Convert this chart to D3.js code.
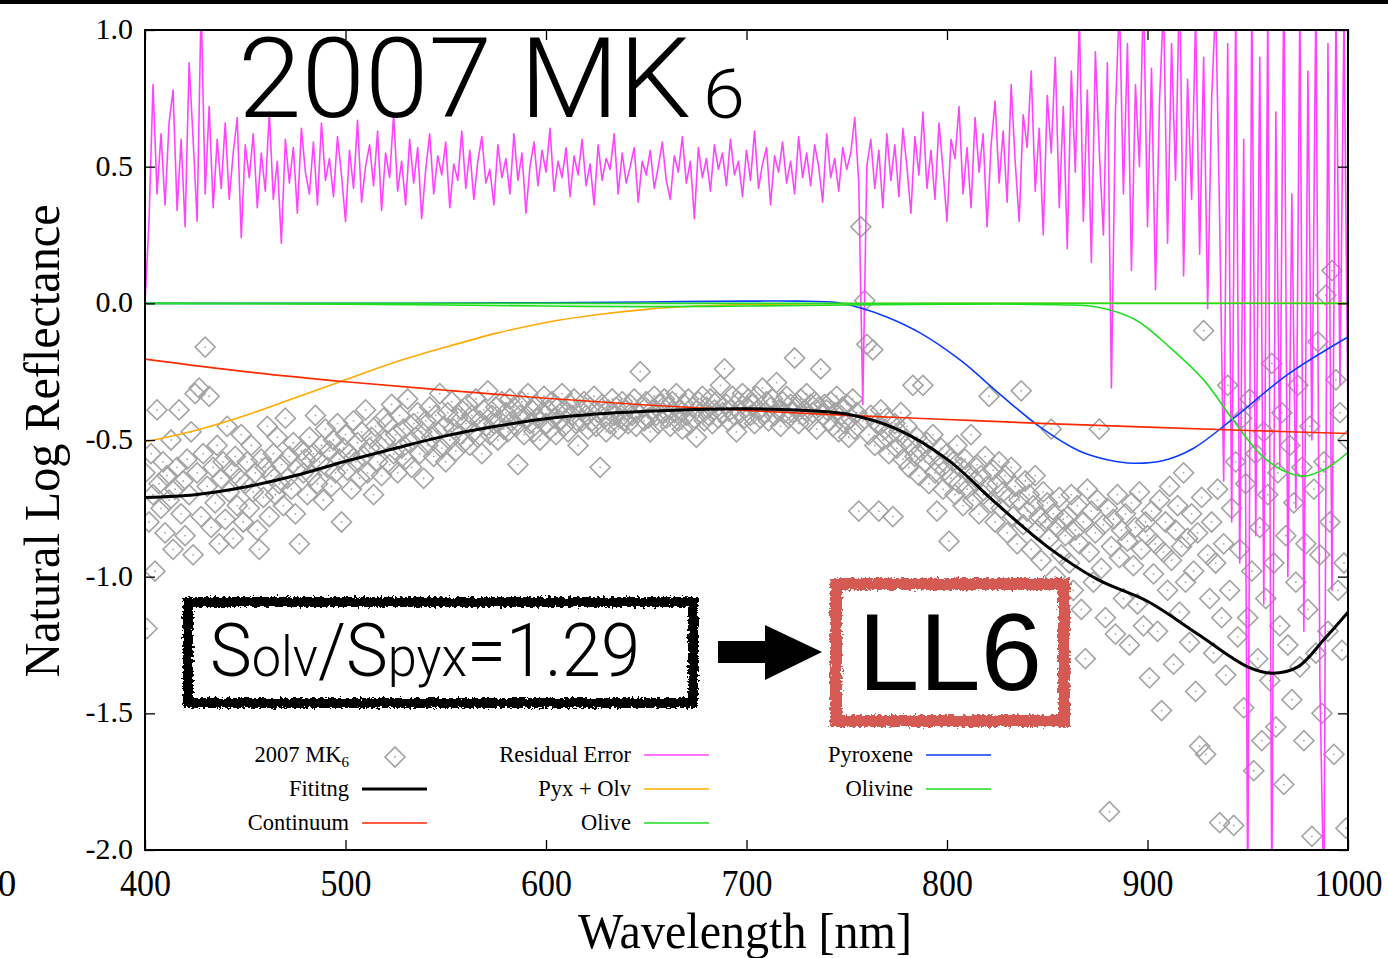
<!DOCTYPE html>
<html>
<head>
<meta charset="utf-8">
<script src="https://cdn.jsdelivr.net/npm/d3@7"></script>
<style>
  body { margin: 0; background: #fff; }
  svg { display: block; }
</style>
</head>
<body>
<svg id="chart"></svg>
<script>
/* global d3 */

// ---- data ----
var xTicks = [400, 500, 600, 700, 800, 900, 1000];
var yTicks = [1.0, 0.5, 0.0, -0.5, -1.0, -1.5, -2.0];

// measured reflectance, one point per nm from 400 to 1000
var specStart = 400;
var specValues = [
  -0.62,-1.19,-0.80,-0.55,-0.70,-0.98,-0.39,-0.66,-0.75,-0.58,-0.84,-0.63,-0.72,-0.50,-0.90,-0.68,-0.60,-0.39,-0.77,-0.65,
  -0.85,-0.57,-0.70,-0.47,-0.92,-0.33,-0.62,-0.31,-0.78,-0.55,-0.16,-0.67,-0.34,-0.82,-0.60,-0.73,-0.52,-0.88,-0.64,-0.58,
  -0.79,-0.45,-0.69,-0.61,-0.86,-0.56,-0.74,-0.64,-0.48,-0.80,-0.66,-0.58,-0.75,-0.52,-0.69,-0.62,-0.83,-0.90,-0.57,-0.71,
  -0.60,-0.45,-0.78,-0.63,-0.55,-0.70,-0.49,-0.66,-0.59,-0.74,-0.42,-0.64,-0.56,-0.68,-0.51,-0.77,-0.60,-0.88,-0.54,-0.62,
  -0.57,-0.70,-0.49,-0.63,-0.55,-0.41,-0.66,-0.58,-0.52,-0.72,-0.46,-0.60,-0.54,-0.67,-0.50,-0.62,-0.44,-0.57,-0.80,-0.53,
  -0.48,-0.61,-0.55,-0.68,-0.43,-0.58,-0.51,-0.64,-0.47,-0.56,-0.39,-0.62,-0.53,-0.49,-0.70,-0.45,-0.58,-0.52,-0.63,-0.42,
  -0.50,-0.44,-0.59,-0.37,-0.55,-0.48,-0.62,-0.41,-0.53,-0.46,-0.57,-0.35,-0.51,-0.60,-0.44,-0.49,-0.40,-0.55,-0.47,-0.64,
  -0.43,-0.52,-0.38,-0.49,-0.56,-0.41,-0.47,-0.33,-0.53,-0.45,-0.58,-0.40,-0.50,-0.36,-0.46,-0.54,-0.42,-0.48,-0.39,-0.51,
  -0.44,-0.37,-0.52,-0.41,-0.47,-0.35,-0.49,-0.43,-0.55,-0.39,-0.45,-0.32,-0.48,-0.41,-0.44,-0.38,-0.50,-0.43,-0.36,-0.46,
  -0.40,-0.47,-0.35,-0.43,-0.38,-0.45,-0.59,-0.41,-0.36,-0.48,-0.42,-0.33,-0.44,-0.39,-0.47,-0.37,-0.42,-0.50,-0.40,-0.34,
  -0.44,-0.39,-0.46,-0.36,-0.42,-0.48,-0.38,-0.43,-0.33,-0.45,-0.40,-0.47,-0.37,-0.41,-0.35,-0.44,-0.52,-0.39,-0.43,-0.36,
  -0.41,-0.46,-0.38,-0.43,-0.34,-0.45,-0.40,-0.60,-0.37,-0.42,-0.47,-0.39,-0.44,-0.35,-0.41,-0.38,-0.46,-0.42,-0.36,-0.43,
  -0.39,-0.44,-0.37,-0.41,-0.35,-0.45,-0.40,-0.25,-0.38,-0.43,-0.36,-0.42,-0.47,-0.39,-0.34,-0.41,-0.44,-0.37,-0.40,-0.35,
  -0.42,-0.38,-0.45,-0.36,-0.40,-0.33,-0.43,-0.39,-0.46,-0.37,-0.41,-0.35,-0.44,-0.38,-0.42,-0.49,-0.36,-0.40,-0.34,-0.43,
  -0.38,-0.41,-0.35,-0.44,-0.39,-0.36,-0.42,-0.30,-0.40,-0.24,-0.37,-0.43,-0.39,-0.34,-0.41,-0.47,-0.36,-0.40,-0.33,-0.42,
  -0.38,-0.35,-0.41,-0.37,-0.44,-0.34,-0.39,-0.42,-0.31,-0.40,-0.36,-0.43,-0.38,-0.35,-0.41,-0.29,-0.39,-0.45,-0.36,-0.40,
  -0.34,-0.42,-0.37,-0.40,-0.20,-0.38,-0.44,-0.35,-0.41,-0.39,-0.33,-0.43,-0.37,-0.40,-0.36,-0.46,-0.38,-0.24,-0.41,-0.37,
  -0.39,-0.43,-0.36,-0.45,-0.40,-0.34,-0.47,-0.41,-0.38,-0.44,-0.37,-0.49,-0.42,-0.35,-0.46,-0.40,-0.76,0.28,-0.43,0.01,
  -0.15,-0.48,-0.41,-0.17,-0.52,-0.44,-0.76,-0.39,-0.50,-0.46,-0.42,-0.55,-0.48,-0.78,-0.44,-0.53,-0.47,-0.40,-0.57,-0.50,
  -0.45,-0.60,-0.52,-0.30,-0.56,-0.49,-0.63,-0.54,-0.30,-0.58,-0.51,-0.66,-0.56,-0.48,-0.62,-0.76,-0.59,-0.53,-0.68,-0.61,
  -0.55,-0.87,-0.64,-0.58,-0.70,-0.52,-0.66,-0.60,-0.74,-0.57,-0.68,-0.62,-0.48,-0.72,-0.65,-0.59,-0.77,-0.63,-0.70,-0.56,
  -0.67,-0.34,-0.73,-0.61,-0.80,-0.66,-0.58,-0.75,-0.69,-0.63,-0.84,-0.71,-0.60,-0.78,-0.67,-0.88,-0.72,-0.32,-0.81,-0.65,
  -0.76,-0.70,-0.90,-0.74,-0.63,-0.83,-0.78,-0.94,-0.69,-0.80,-0.73,-0.86,-0.46,-0.77,-1.00,-0.82,-0.71,-0.92,-0.79,-0.85,
  -0.78,-0.95,-0.70,-1.05,-0.83,-0.74,-0.88,-1.12,-0.80,-1.30,-0.68,-0.91,-0.76,-1.02,-0.84,-0.72,-0.46,-0.97,-0.81,-1.15,
  -0.75,-1.86,-0.89,-0.79,-1.21,-0.70,-0.93,-0.83,-1.08,-0.77,-0.87,-1.25,-0.73,-0.96,-0.82,-1.10,-0.69,-0.90,-1.18,-0.80,
  -0.85,-1.37,-0.76,-0.99,-0.88,-1.20,-0.72,-1.49,-0.91,-0.80,-1.05,-0.67,-0.94,-1.32,-0.83,-0.74,-1.13,-0.89,-0.62,-1.02,
  -0.86,-1.24,-0.77,-0.98,-1.42,-0.84,-1.62,-0.71,-0.10,-1.65,-0.92,-1.08,-0.80,-1.28,-0.95,-0.68,-1.90,-1.15,-0.88,-1.36,
  -0.30,-1.05,-0.75,-1.91,-0.58,-1.22,-0.90,-0.42,-1.48,-0.66,-1.15,-0.35,-0.98,-1.71,-0.55,-1.30,-0.82,-1.60,-0.47,-1.08,
  -0.70,-1.38,-0.22,-0.95,-1.55,-0.62,-1.18,-0.40,-1.76,-0.85,-1.25,-0.52,-1.45,-0.73,-1.02,-0.30,-1.33,-0.60,-1.60,-0.88,
  -1.12,-0.45,-1.95,-0.68,-1.28,-0.14,-0.92,-1.50,-0.58,0.03,-1.20,-0.80,0.12,-1.65,-0.28,-1.05,-0.40,-1.27,-0.95,-1.92,
  -0.50
];

// residual error, one value every 2 nm from 400 to 1000
var residStart = 400;
var residStep = 2;
var residValues = [
  0.00,0.30,0.80,0.40,0.62,0.36,0.66,0.78,0.34,0.60,0.28,0.88,0.60,0.30,1.10,0.40,0.72,0.35,0.60,0.42,0.66,0.38,0.55,0.68,0.24,0.58,
  0.46,0.62,0.35,0.55,0.41,0.70,0.38,0.52,0.22,0.60,0.44,0.57,0.33,0.64,0.48,0.40,0.59,0.36,0.66,0.45,
  0.53,0.39,0.61,0.47,0.30,0.56,0.42,0.67,0.37,0.50,0.58,0.43,0.63,0.34,0.55,0.46,0.69,0.41,0.52,0.36,
  0.60,0.44,0.57,0.31,0.49,0.62,0.40,0.54,0.47,0.59,0.35,0.51,0.45,0.63,0.42,0.56,0.38,0.52,0.61,0.44,
  0.49,0.36,0.58,0.46,0.53,0.40,0.62,0.45,0.55,0.33,0.50,0.59,0.43,0.56,0.48,0.64,0.41,0.52,0.46,0.57,
  0.39,0.54,0.47,0.60,0.43,0.51,0.36,0.58,0.45,0.53,0.49,0.62,0.40,0.55,0.44,0.50,0.57,0.37,0.52,0.47,
  0.56,0.42,0.50,0.59,0.45,0.38,0.54,0.48,0.61,0.44,0.52,0.31,0.57,0.46,0.53,0.41,0.58,0.49,0.55,0.43,
  0.60,0.47,0.52,0.39,0.56,0.45,0.63,0.42,0.51,0.57,0.36,0.54,0.48,0.59,0.44,0.52,0.40,0.61,0.46,0.55,
  0.43,0.58,0.50,0.37,0.62,0.46,0.53,0.41,0.57,0.49,0.55,0.68,0.44,-0.37,0.50,0.60,0.42,0.56,0.35,0.62,
  0.45,0.58,0.39,0.64,0.50,0.33,0.61,0.47,0.70,0.42,0.56,0.38,0.66,0.49,0.30,0.60,0.53,0.72,0.40,0.57,
  0.35,0.68,0.48,0.62,0.28,0.58,0.74,0.44,0.63,0.37,0.80,0.52,0.30,0.69,0.57,0.85,0.41,0.64,0.25,0.76,
  0.55,0.90,0.35,0.72,0.20,0.85,0.48,1.05,0.30,0.78,0.15,0.92,0.55,0.25,0.88,-0.31,0.70,1.10,0.40,0.95,
  0.12,0.80,0.50,1.15,0.28,0.86,0.05,0.74,1.10,0.22,0.95,0.45,1.20,0.10,0.82,0.38,1.05,0.18,0.90,-0.02,
  0.75,1.10,0.30,-0.65,0.95,
  -0.80,1.10,-0.95,0.60,-2.20,1.15,-0.85,0.90,-1.10,1.10,-2.20,0.70,-0.60,1.20,-1.00,
  0.40,-0.75,1.10,-1.20,0.85,-0.50,1.15,-1.40,-2.20,0.95,-1.05,1.10,-0.30,1.05,-0.45
];

// fitted model curves (knots)
var fitWl = [400,425,450,475,500,525,550,575,600,625,650,675,700,725,750,775,800,825,850,875,900,925,950,962,975,988,1000];
var fitVal = [-0.71,-0.70,-0.672,-0.63,-0.578,-0.53,-0.485,-0.45,-0.422,-0.405,-0.395,-0.388,-0.386,-0.39,-0.405,-0.46,-0.57,-0.735,-0.89,-1.01,-1.09,-1.21,-1.33,-1.353,-1.33,-1.23,-1.13];

var contWl = [400,450,500,550,600,650,700,750,800,850,900,950,1000];
var contVal = [-0.204,-0.25,-0.287,-0.318,-0.347,-0.372,-0.392,-0.41,-0.425,-0.44,-0.453,-0.465,-0.476];

var pyxOlvWl = [400,425,450,475,500,525,550,575,600,625,650,675,700,750,800,1000];
var pyxOlvVal = [-0.507,-0.465,-0.41,-0.345,-0.28,-0.215,-0.16,-0.11,-0.07,-0.042,-0.022,-0.01,-0.004,-0.001,0,0];

var oliveWl = [400,500,600,700,800,900,1000];
var oliveVal = [0,0,0,0,0,0,0];

var pyxWl = [400,500,600,650,700,725,745,757,770,787,807,826,846,866,880,893,908,923,943,970,1000];
var pyxVal = [0,0,0.002,0.005,0.008,0.008,0.003,-0.017,-0.05,-0.11,-0.21,-0.33,-0.45,-0.54,-0.572,-0.585,-0.575,-0.53,-0.42,-0.26,-0.123];

var olvWl = [400,500,550,600,650,700,750,800,856,876,894,911,928,943,956,967,978,990,1000];
var olvVal = [0,-0.003,-0.006,-0.01,-0.012,-0.01,-0.006,-0.003,-0.005,-0.015,-0.06,-0.16,-0.28,-0.43,-0.55,-0.61,-0.632,-0.6,-0.545];

// ---- layout ----
var svgWidth = 1388;
var svgHeight = 958;
var plot = { left: 145, right: 1348, top: 30, bottom: 850 };

var svg = d3.select('#chart')
    .attr('width', svgWidth)
    .attr('height', svgHeight)
    .style('font-family', '"Liberation Serif", "Times New Roman", serif');

var defs = svg.append('defs');
defs.append('clipPath').attr('id', 'plotClip')
    .append('rect')
    .attr('x', plot.left).attr('y', plot.top)
    .attr('width', plot.right - plot.left).attr('height', plot.bottom - plot.top);

var rough = defs.append('filter').attr('id', 'rough')
    .attr('x', '-5%').attr('y', '-15%').attr('width', '110%').attr('height', '130%');
rough.append('feTurbulence').attr('type', 'fractalNoise').attr('baseFrequency', 0.35)
    .attr('numOctaves', 2).attr('seed', 4).attr('result', 'noise');
rough.append('feDisplacementMap').attr('in', 'SourceGraphic').attr('in2', 'noise')
    .attr('scale', 7).attr('xChannelSelector', 'R').attr('yChannelSelector', 'G');

var x = d3.scaleLinear().domain([400, 1000]).range([plot.left, plot.right]);
var y = d3.scaleLinear().domain([-2, 1]).range([plot.bottom, plot.top]);

// black strip at the very top
svg.append('rect').attr('x', 0).attr('y', 0).attr('width', svgWidth).attr('height', 4).attr('fill', '#000');

var plotArea = svg.append('g').attr('clip-path', 'url(#plotClip)');

// scatter of measured spectrum
var spec = specValues.map(function(v, i){ return { wl: specStart + i, v: v }; });
var diamond = d3.symbol().type(d3.symbolSquare).size(200);

var pts = plotArea.append('g').attr('class', 'spectrum')
    .selectAll('g')
    .data(spec)
    .enter()
    .append('g')
    .attr('transform', function(d){ return 'translate(' + x(d.wl) + ',' + y(d.v) + ')'; });
pts.append('path')
    .attr('d', diamond)
    .attr('transform', 'rotate(45)')
    .attr('fill', 'none')
    .attr('stroke', '#a4a4a4')
    .attr('stroke-width', 1.6);
pts.append('circle').attr('r', 0.9).attr('fill', '#a4a4a4');

// residual error
var resid = residValues.map(function(v, i){ return { wl: residStart + i * residStep, v: v }; });
var straight = d3.line()
    .x(function(d){ return x(d.wl); })
    .y(function(d){ return y(d.v); });
plotArea.append('path')
    .datum(resid)
    .attr('d', straight)
    .attr('fill', 'none')
    .attr('stroke', '#ff44ff')
    .attr('stroke-width', 1.6)
    .attr('stroke-linejoin', 'round');

// smooth model curves
var smooth = d3.line()
    .x(function(d){ return x(d[0]); })
    .y(function(d){ return y(d[1]); })
    .curve(d3.curveCatmullRom.alpha(0.5));

function addCurve(wl, val, color, width){
    plotArea.append('path')
        .datum(d3.zip(wl, val))
        .attr('d', smooth)
        .attr('fill', 'none')
        .attr('stroke', color)
        .attr('stroke-width', width);
}

addCurve(pyxWl, pyxVal, '#0a3cff', 1.6);
addCurve(pyxOlvWl, pyxOlvVal, '#ffaa00', 1.6);
addCurve(olvWl, olvVal, '#22dd22', 1.6);
addCurve(oliveWl, oliveVal, '#22dd22', 1.8);
addCurve(contWl, contVal, '#ff2a00', 1.6);
addCurve(fitWl, fitVal, '#000000', 3);

// axes: ticks point inward
var fmtY = function(d){ return d.toFixed(1); };

var bottomAxis = svg.append('g')
    .attr('transform', 'translate(0,' + plot.bottom + ')')
    .call(d3.axisBottom(x).tickValues(xTicks).tickSize(-10).tickFormat(d3.format('d')));
var topAxis = svg.append('g')
    .attr('transform', 'translate(0,' + plot.top + ')')
    .call(d3.axisTop(x).tickValues(xTicks).tickSize(-10).tickFormat(''));
var leftAxis = svg.append('g')
    .attr('transform', 'translate(' + plot.left + ',0)')
    .call(d3.axisLeft(y).tickValues(yTicks).tickSize(-10).tickFormat(fmtY));
var rightAxis = svg.append('g')
    .attr('transform', 'translate(' + plot.right + ',0)')
    .call(d3.axisLeft(y).tickValues(yTicks).tickSize(10).tickFormat(''));

[bottomAxis, topAxis, leftAxis, rightAxis].forEach(function(a){
    a.select('.domain').remove();
    a.selectAll('.tick line').attr('stroke', '#000').attr('stroke-width', 1.3);
});

bottomAxis.selectAll('.tick text')
    .attr('y', 46).attr('dy', 0)
    .attr('fill', '#000')
    .style('font-family', '"Liberation Serif", serif')
    .style('font-size', '37px')
    .attr('textLength', function(d){ return String(d).length * 17; })
    .attr('lengthAdjust', 'spacingAndGlyphs');

leftAxis.selectAll('.tick text')
    .attr('x', -12).attr('dy', '0.28em')
    .attr('fill', '#000')
    .style('font-family', '"Liberation Serif", serif')
    .style('font-size', '30px');

// stray label at the left edge
svg.append('text').attr('x', 7).attr('y', 896).attr('text-anchor', 'middle')
    .style('font-size', '37px').text('0');

// frame
svg.append('rect')
    .attr('x', plot.left).attr('y', plot.top)
    .attr('width', plot.right - plot.left).attr('height', plot.bottom - plot.top)
    .attr('fill', 'none').attr('stroke', '#000').attr('stroke-width', 2);

// axis titles
svg.append('text')
    .attr('x', 745).attr('y', 948)
    .attr('text-anchor', 'middle')
    .attr('textLength', 334).attr('lengthAdjust', 'spacingAndGlyphs')
    .style('font-size', '50px')
    .text('Wavelength [nm]');

svg.append('text')
    .attr('transform', 'translate(59,441) rotate(-90)')
    .attr('text-anchor', 'middle')
    .attr('textLength', 473).attr('lengthAdjust', 'spacingAndGlyphs')
    .style('font-size', '50px')
    .text('Natural Log Reflectance');

// legend
var legendItems = [
    { label: '2007 MK', sub: '6', kind: 'point', col: 0, row: 0 },
    { label: 'Fititng', color: '#000000', width: 3, col: 0, row: 1 },
    { label: 'Continuum', color: '#ff2a00', width: 1.6, col: 0, row: 2 },
    { label: 'Residual Error', color: '#ff44ff', width: 1.6, col: 1, row: 0 },
    { label: 'Pyx + Olv', color: '#ffaa00', width: 1.6, col: 1, row: 1 },
    { label: 'Olive', color: '#22dd22', width: 1.6, col: 1, row: 2 },
    { label: 'Pyroxene', color: '#0a3cff', width: 1.6, col: 2, row: 0 },
    { label: 'Olivine', color: '#22dd22', width: 1.6, col: 2, row: 1 }
];
var legendColX = [349, 631, 913];
var legendRowY = [755, 789, 823];

var legend = svg.append('g').attr('class', 'legend')
    .selectAll('g')
    .data(legendItems)
    .enter()
    .append('g')
    .attr('transform', function(d){ return 'translate(' + legendColX[d.col] + ',' + legendRowY[d.row] + ')'; });

var legText = legend.append('text')
    .attr('x', 0).attr('y', 7)
    .attr('text-anchor', 'end')
    .style('font-size', '22.5px')
    .text(function(d){ return d.label; });
legText.filter(function(d){ return d.sub; })
    .append('tspan')
    .attr('dy', 5)
    .style('font-size', '15px')
    .text(function(d){ return d.sub; });

legend.filter(function(d){ return d.kind !== 'point'; })
    .append('line')
    .attr('x1', 13).attr('x2', 78).attr('y1', 0).attr('y2', 0)
    .attr('stroke', function(d){ return d.color; })
    .attr('stroke-width', function(d){ return d.width; });

var legPt = legend.filter(function(d){ return d.kind === 'point'; })
    .append('g').attr('transform', 'translate(46,2)');
legPt.append('path').attr('d', diamond).attr('transform', 'rotate(45)')
    .attr('fill', 'none').attr('stroke', '#a4a4a4').attr('stroke-width', 1.6);
legPt.append('circle').attr('r', 0.9).attr('fill', '#a4a4a4');

// title
var thinSans = 'Roboto, "Liberation Sans", Arial, sans-serif';
svg.append('text')
    .attr('x', 238).attr('y', 117)
    .attr('textLength', 453).attr('lengthAdjust', 'spacingAndGlyphs')
    .style('font-family', thinSans)
    .style('font-weight', 300)
    .style('font-size', '112px')
    .text('2007 MK');
svg.append('text')
    .attr('x', 703).attr('y', 118)
    .attr('textLength', 42).attr('lengthAdjust', 'spacingAndGlyphs')
    .style('font-family', thinSans)
    .style('font-weight', 300)
    .style('font-size', '68px')
    .text('6');

// ratio box
svg.append('rect').attr('x', 188).attr('y', 602).attr('width', 505).attr('height', 101)
    .attr('fill', '#fff');
svg.append('rect').attr('x', 188).attr('y', 602).attr('width', 505).attr('height', 101)
    .attr('fill', 'none').attr('stroke', '#000').attr('stroke-width', 10)
    .attr('filter', 'url(#rough)');

var ratio = svg.append('text')
    .attr('x', 210).attr('y', 676)
    .attr('textLength', 430).attr('lengthAdjust', 'spacingAndGlyphs')
    .style('font-family', thinSans)
    .style('font-weight', 300)
    .style('font-size', '74px');
ratio.append('tspan').text('S');
ratio.append('tspan').style('font-size', '55px').text('olv');
ratio.append('tspan').text('/S');
ratio.append('tspan').style('font-size', '55px').text('pyx');
ratio.append('tspan').text('=1.29');

// arrow
svg.append('path')
    .attr('d', 'M718,641 H765 V625 L822,652 L765,680 V663 H718 Z')
    .attr('fill', '#000');

// class box
svg.append('rect').attr('x', 836).attr('y', 584).attr('width', 228).attr('height', 137)
    .attr('fill', '#fff');
svg.append('rect').attr('x', 836).attr('y', 584).attr('width', 228).attr('height', 137)
    .attr('fill', 'none').attr('stroke', '#d45a52').attr('stroke-width', 12)
    .attr('filter', 'url(#rough)');
svg.append('text')
    .attr('x', 950).attr('y', 690)
    .attr('text-anchor', 'middle')
    .attr('textLength', 184).attr('lengthAdjust', 'spacingAndGlyphs')
    .style('font-family', '"Liberation Sans", Arial, sans-serif')
    .style('font-size', '109px')
    .text('LL6');
</script>
</body>
</html>
